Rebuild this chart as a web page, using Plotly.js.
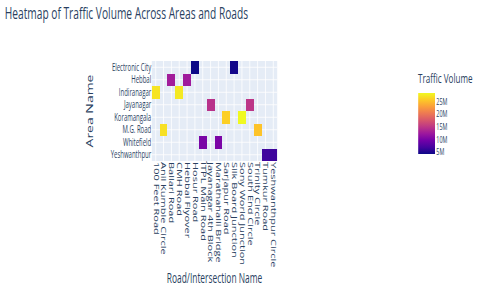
<!DOCTYPE html>
<html>
<head>
<meta charset="utf-8">
<script src="https://cdn.plot.ly/plotly-3.0.1.min.js"></script>
<style>
html,body{margin:0;padding:0;background:#fff;overflow:hidden;width:480px;height:304px;}
#chart{width:800px;height:304px;transform:scaleX(0.6);transform-origin:0 0;}
</style>
</head>
<body>
<div id="chart"></div>
<script>
const areas = ["Electronic City","Hebbal","Indiranagar","Jayanagar","Koramangala","M.G. Road","Whitefield","Yeshwanthpur"];
const roads = ["100 Feet Road","Anil Kumble Circle","Ballari Road","CMH Road","Hebbal Flyover","Hosur Road","ITPL Main Road","Jayanagar 4th Block","Marathahalli Bridge","Sarjapur Road","Silk Board Junction","Sony World Junction","South End Circle","Trinity Circle","Tumkur Road","Yeshwanthpur Circle"];
const recArea = ["Electronic City","Electronic City","Hebbal","Hebbal","Indiranagar","Indiranagar","Jayanagar","Jayanagar","Koramangala","Koramangala","M.G. Road","M.G. Road","Whitefield","Whitefield","Yeshwanthpur","Yeshwanthpur"];
const recRoad = ["Hosur Road","Silk Board Junction","Ballari Road","Hebbal Flyover","100 Feet Road","CMH Road","Jayanagar 4th Block","South End Circle","Sarjapur Road","Sony World Junction","Anil Kumble Circle","Trinity Circle","ITPL Main Road","Marathahalli Bridge","Tumkur Road","Yeshwanthpur Circle"];
const recVolume = [4.3e6,4.6e6,12.8e6,12.6e6,27.2e6,27.5e6,14.6e6,14.9e6,26.0e6,28.4e6,27.0e6,25.3e6,10.1e6,10.3e6,6.7e6,6.6e6];
const cbTicks = [5e6,10e6,15e6,20e6,25e6];
const cbLabels = ["5M","10M","15M","20M","25M"];

const z = areas.map(a => roads.map(r => null));
recArea.forEach((a,i) => { z[areas.indexOf(a)][roads.indexOf(recRoad[i])] = recVolume[i]; });

const plasma = [[0,"#0d0887"],[0.1111,"#46039f"],[0.2222,"#7201a8"],[0.3333,"#9c179e"],[0.4444,"#bd3786"],[0.5556,"#d8576b"],[0.6667,"#ed7953"],[0.7778,"#fb9f3a"],[0.8889,"#fdca26"],[1,"#f0f921"]];
const F = "Open Sans, sans-serif";
const C = "#2a3f5f";
const trace = {
  type: "heatmap", x: roads, y: areas, z: z,
  colorscale: plasma, hoverongaps: false,
  colorbar: {
    title: {text: "Traffic Volume", side: "top", font: {family: F, size: 13.5, color: C}},
    thickness: 28, lenmode: "pixels", len: 84, x: 2.123, xanchor: "left", xpad: 0,
    y: 0.49, yanchor: "middle", ypad: 0, outlinewidth: 0,
    tickvals: cbTicks, ticktext: cbLabels,
    tickfont: {family: F, size: 9, color: C}
  }
};
const layout = {
  width: 800, height: 304,
  margin: {l: 253, r: 335, t: 61, b: 143},
  paper_bgcolor: "#fff", plot_bgcolor: "#E5ECF6",
  font: {family: F, color: C},
  title: {text: "Heatmap of Traffic Volume Across Areas and Roads", x: 0.01, xanchor: "left", y: 0.975, yanchor: "top", font: {family: F, size: 17, color: C}},
  xaxis: {type: "category", tickangle: 90, dtick: 1, ticks: "", gridcolor: "#fff", automargin: true, title: {text: "Road/Intersection Name", standoff: 6, font: {family: F, size: 14}}, tickfont: {family: F, size: 11}, zeroline: false},
  yaxis: {type: "category", autorange: "reversed", dtick: 1, ticks: "", gridcolor: "#fff", automargin: true, title: {text: "Area Name", standoff: 25, font: {family: F, size: 14}}, tickfont: {family: F, size: 10}, zeroline: false}
};
Plotly.newPlot("chart", [trace], layout, {displayModeBar: false, staticPlot: true});
</script>
</body>
</html>
